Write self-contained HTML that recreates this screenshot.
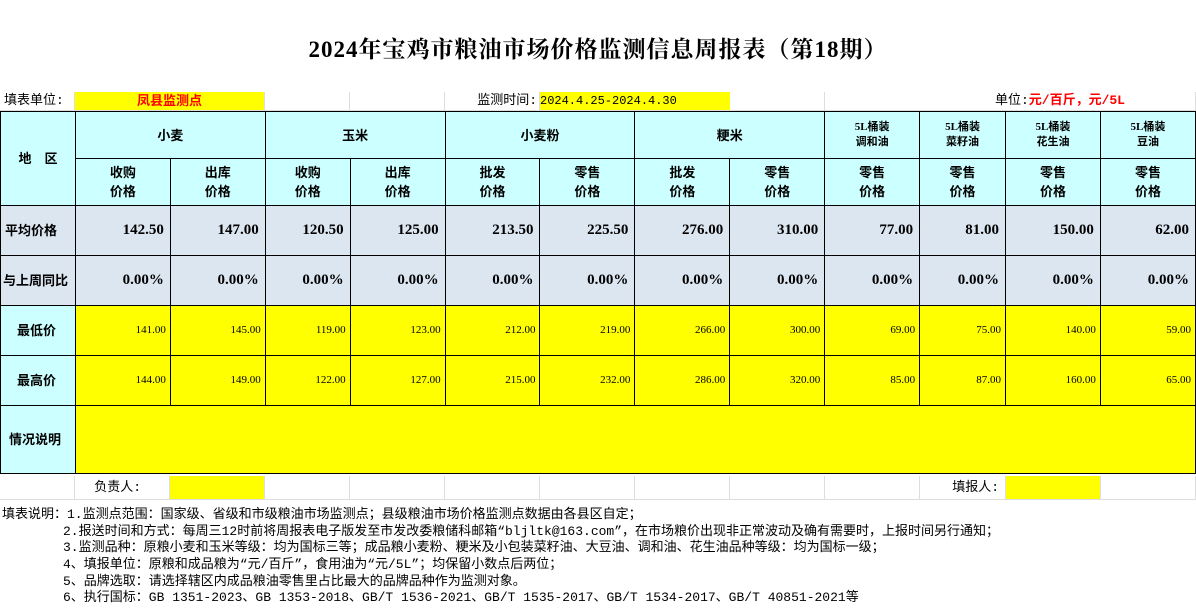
<!DOCTYPE html>
<html><head><meta charset="utf-8"><style>
body{margin:0;width:1196px;height:612px;background:#fff;position:relative;overflow:hidden;font-family:"Liberation Serif","Noto Serif CJK SC",serif}
.title{position:absolute;top:31px;left:0;width:1196px;text-align:center;font-size:23px;letter-spacing:1px;font-weight:bold;color:#000}
.g{position:absolute;border-right:1px solid #ddd;border-bottom:1px solid #ddd;box-sizing:border-box;height:19px;font-size:13px;line-height:18px;font-family:"Liberation Mono","Noto Sans CJK SC",sans-serif}
table{position:absolute;left:0;top:111px;border-collapse:collapse;table-layout:fixed}
td{border:1px solid #000;text-align:center;font-weight:bold;font-size:13px;padding:0;font-family:"Liberation Serif","Noto Sans CJK SC",sans-serif;line-height:19px}
.c{background:#ccffff}.gr{background:#dce6f1}.y{background:#ffff00}
.big{font-size:15px;text-align:right;padding-right:6px;font-family:"Liberation Serif",serif}
.sm{font-size:11px;font-weight:normal;text-align:right;padding-right:4px;font-family:"Liberation Serif",serif}
.n{position:absolute;font-size:13px;line-height:16px;font-family:"Liberation Mono","Noto Sans CJK SC",sans-serif;white-space:pre}
</style></head><body>
<div class="title">2024年宝鸡市粮油市场价格监测信息周报表（第18期）</div>
<div class="g" style="left:0;top:92px;width:75px;padding-left:4px">填表单位:</div>
<div class="g" style="left:75px;top:92px;width:190px;background:#ff0;color:#f00;font-weight:bold;text-align:center;font-family:'Liberation Sans','Noto Sans CJK SC',sans-serif">凤县监测点</div>
<div class="g" style="left:265px;top:92px;width:85px"></div>
<div class="g" style="left:350px;top:92px;width:95px"></div>
<div class="g" style="left:445px;top:92px;width:95px;text-align:right;padding-right:2px">监测时间:</div>
<div class="g" style="left:540px;top:92px;width:190px;"><span style="background:#ff0;display:inline-block;width:190px;font-size:12px">2024.4.25-2024.4.30</span></div>
<div class="g" style="left:730px;top:92px;width:95px"></div>
<div class="g" style="left:825px;top:92px;width:371px;text-align:right;padding-right:70px">单位:<b style="color:#f00">元/百斤，元/5L</b></div>
<table>
<colgroup><col style="width:75px"><col style="width:95px"><col style="width:95px"><col style="width:85px"><col style="width:95px"><col style="width:95px"><col style="width:95px"><col style="width:95px"><col style="width:95px"><col style="width:95px"><col style="width:86px"><col style="width:95px"><col style="width:95px"></colgroup>
<tr style="height:47px"><td class="c" rowspan="2">地　区</td><td class="c" colspan="2">小麦</td><td class="c" colspan="2">玉米</td><td class="c" colspan="2">小麦粉</td><td class="c" colspan="2">粳米</td><td class="c" style="font-size:11px;line-height:15px">5L桶装<br>调和油</td><td class="c" style="font-size:11px;line-height:15px">5L桶装<br>菜籽油</td><td class="c" style="font-size:11px;line-height:15px">5L桶装<br>花生油</td><td class="c" style="font-size:11px;line-height:15px">5L桶装<br>豆油</td></tr>
<tr style="height:47px"><td class="c">收购<br>价格</td><td class="c">出库<br>价格</td><td class="c">收购<br>价格</td><td class="c">出库<br>价格</td><td class="c">批发<br>价格</td><td class="c">零售<br>价格</td><td class="c">批发<br>价格</td><td class="c">零售<br>价格</td><td class="c">零售<br>价格</td><td class="c">零售<br>价格</td><td class="c">零售<br>价格</td><td class="c">零售<br>价格</td></tr>
<tr style="height:50px" class="gr"><td style="text-align:left;padding-left:4px">平均价格</td><td class="big">142.50</td><td class="big">147.00</td><td class="big">120.50</td><td class="big">125.00</td><td class="big">213.50</td><td class="big">225.50</td><td class="big">276.00</td><td class="big">310.00</td><td class="big">77.00</td><td class="big">81.00</td><td class="big">150.00</td><td class="big">62.00</td></tr>
<tr style="height:50px" class="gr"><td style="text-align:left;padding-left:2px">与上周同比</td><td class="big">0.00%</td><td class="big">0.00%</td><td class="big">0.00%</td><td class="big">0.00%</td><td class="big">0.00%</td><td class="big">0.00%</td><td class="big">0.00%</td><td class="big">0.00%</td><td class="big">0.00%</td><td class="big">0.00%</td><td class="big">0.00%</td><td class="big">0.00%</td></tr>
<tr style="height:50px" class="y"><td class="c" style="text-align:left;padding-left:16px">最低价</td><td class="sm">141.00</td><td class="sm">145.00</td><td class="sm">119.00</td><td class="sm">123.00</td><td class="sm">212.00</td><td class="sm">219.00</td><td class="sm">266.00</td><td class="sm">300.00</td><td class="sm">69.00</td><td class="sm">75.00</td><td class="sm">140.00</td><td class="sm">59.00</td></tr>
<tr style="height:50px" class="y"><td class="c" style="text-align:left;padding-left:16px">最高价</td><td class="sm">144.00</td><td class="sm">149.00</td><td class="sm">122.00</td><td class="sm">127.00</td><td class="sm">215.00</td><td class="sm">232.00</td><td class="sm">286.00</td><td class="sm">320.00</td><td class="sm">85.00</td><td class="sm">87.00</td><td class="sm">160.00</td><td class="sm">65.00</td></tr>
<tr style="height:68px"><td class="c" style="text-align:left;padding-left:8px">情况说明</td><td class="y" colspan="12"></td></tr>
</table>
<div class="g" style="left:0;top:476px;width:75px;height:24px"></div>
<div class="g" style="left:75px;top:476px;width:95px;height:24px;text-align:right;padding-right:28px;line-height:24px">负责人:</div>
<div class="g" style="left:170px;top:476px;width:95px;height:24px;background:#ff0"></div>
<div class="g" style="left:265px;top:476px;width:85px;height:24px"></div>
<div class="g" style="left:350px;top:476px;width:95px;height:24px"></div>
<div class="g" style="left:445px;top:476px;width:95px;height:24px"></div>
<div class="g" style="left:540px;top:476px;width:95px;height:24px"></div>
<div class="g" style="left:635px;top:476px;width:95px;height:24px"></div>
<div class="g" style="left:730px;top:476px;width:95px;height:24px"></div>
<div class="g" style="left:825px;top:476px;width:95px;height:24px"></div>
<div class="g" style="left:920px;top:476px;width:86px;height:24px;text-align:right;padding-right:6px;line-height:24px">填报人:</div>
<div class="g" style="left:1006px;top:476px;width:95px;height:24px;background:#ff0"></div>
<div class="g" style="left:1101px;top:476px;width:95px;height:24px"></div>
<div class="n" style="left:2px;top:507px">填表说明：1.监测点范围：国家级、省级和市级粮油市场监测点；县级粮油市场价格监测点数据由各县区自定；</div>
<div class="n" style="left:63px;top:524px">2.报送时间和方式：每周三12时前将周报表电子版发至市发改委粮储科邮箱“bljltk@163.com”，在市场粮价出现非正常波动及确有需要时，上报时间另行通知；</div>
<div class="n" style="left:63px;top:540px">3.监测品种：原粮小麦和玉米等级：均为国标三等；成品粮小麦粉、粳米及小包装菜籽油、大豆油、调和油、花生油品种等级：均为国标一级；</div>
<div class="n" style="left:63px;top:557px">4、填报单位：原粮和成品粮为“元/百斤”，食用油为“元/5L”；均保留小数点后两位；</div>
<div class="n" style="left:63px;top:574px">5、品牌选取：请选择辖区内成品粮油零售里占比最大的品牌品种作为监测对象。</div>
<div class="n" style="left:63px;top:590px">6、执行国标：GB 1351-2023、GB 1353-2018、GB/T 1536-2021、GB/T 1535-2017、GB/T 1534-2017、GB/T 40851-2021等</div>
</body></html>
